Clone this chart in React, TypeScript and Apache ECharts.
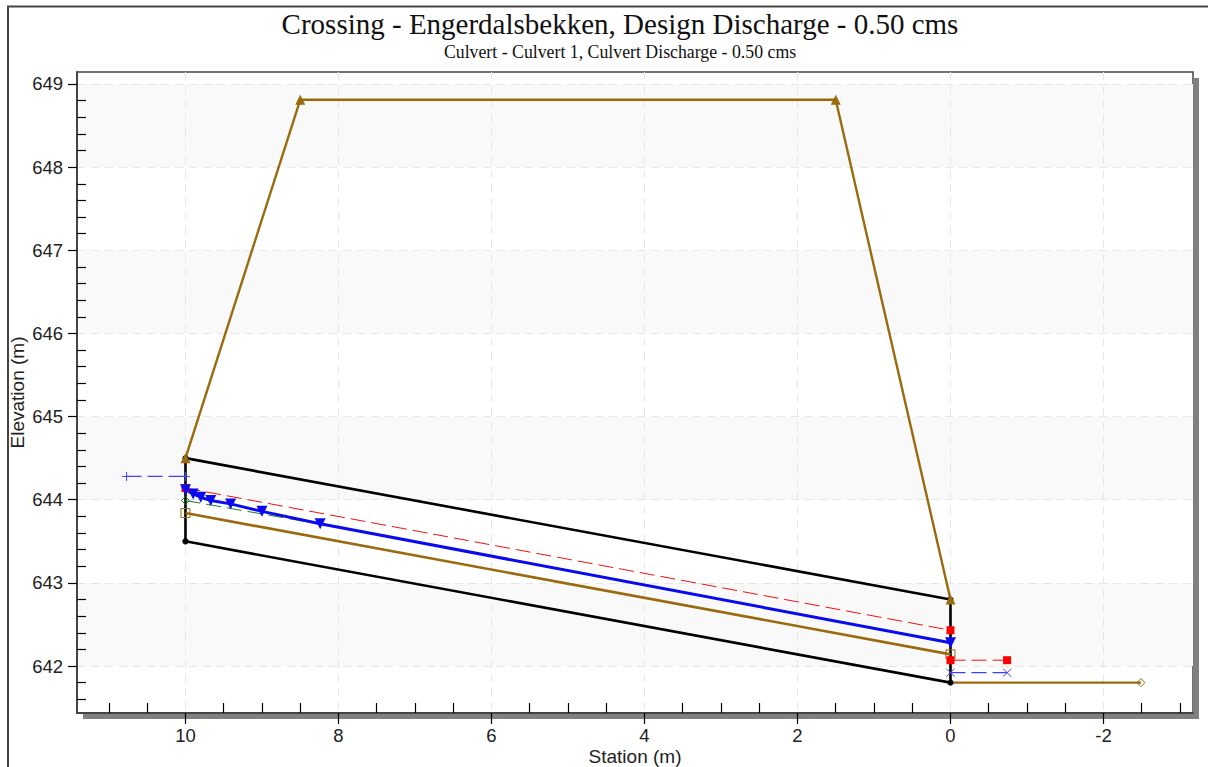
import React, { useEffect, useRef } from "react";
import * as echarts from "echarts";

const titleText = "Crossing - Engerdalsbekken, Design Discharge - 0.50 cms";
const subtitleText = "Culvert - Culvert 1, Culvert Discharge - 0.50 cms";
const xName = "Station (m)";
const yName = "Elevation (m)";

const xMajor = [10, 8, 6, 4, 2, 0, -2];
const xMinor = [11, 10.5, 9.5, 9, 8.5, 7.5, 7, 6.5, 5.5, 5, 4.5, 3.5, 3, 2.5, 1.5, 1, 0.5, -0.5, -1, -1.5, -2.5, -3];
const yMajor = [642, 643, 644, 645, 646, 647, 648, 649];
const yMinor = [
  641.6, 641.8, 642.2, 642.4, 642.6, 642.8, 643.2, 643.4, 643.6, 643.8, 644.2, 644.4, 644.6, 644.8,
  645.2, 645.4, 645.6, 645.8, 646.2, 646.4, 646.6, 646.8, 647.2, 647.4, 647.6, 647.8, 648.2, 648.4, 648.6, 648.8,
];

const embankment = [[10, 644.5], [8.5, 648.81], [1.5, 648.81], [0, 642.8]];
const culvert = [[10, 643.5], [10, 644.5], [0, 642.8], [0, 641.8], [10, 643.5]];
const channelBed = [[0, 641.8], [-2.49, 641.8]];
const flowBase = [[10, 643.84], [0, 642.14]];
const waterSurface = [
  [10, 644.12], [9.9, 644.07], [9.8, 644.03], [9.67, 643.99], [9.41, 643.95], [9.0, 643.86], [8.24, 643.71], [0, 642.28],
];
const normalDepth = [[10, 643.99], [8.2, 643.7], [0, 642.28]];
const energyLine = [[10, 644.14], [0, 642.43]];
const tailEnergy = [[0, 642.07], [-0.74, 642.07]];
const tailWater = [[0, 641.92], [-0.74, 641.92]];
const headWater = [[10.77, 644.28], [10, 644.28]];

const BROWN = "#9a6a0e";
const SANS = "Liberation Sans";
const SERIF = "Liberation Serif";
const PLUS = "path://M0 5L10 5M5 0L5 10";
const CROSS = "path://M0 0L10 10M10 0L0 10";

function line(data: number[][], color: string, width: number, opts: any = {}) {
  return {
    type: "line",
    data,
    silent: true,
    symbol: "none",
    showAllSymbol: true,
    lineStyle: { color, width, type: opts.dash ? [15, 6] : "solid" },
    itemStyle: { color, borderColor: color, borderWidth: 0 },
    ...opts.extra,
  };
}

export default function App() {
  const ref = useRef<HTMLDivElement>(null);
  useEffect(() => {
    const chart = echarts.init(ref.current!, undefined, { renderer: "svg" });
    const hollow = (color: string) => ({ color: "transparent", borderColor: color, borderWidth: 1 });
    const stroke = (color: string) => ({ color: "transparent", borderColor: color, borderWidth: 1 });
    chart.setOption({
      animation: false,
      backgroundColor: "#fff",
      title: [
        {
          text: titleText,
          left: 615,
          top: 4,
          textAlign: "center",
          textStyle: { fontFamily: SERIF, fontSize: 29, fontWeight: "normal", color: "#111" },
        },
        {
          text: subtitleText,
          left: 615,
          top: 38,
          textAlign: "center",
          textStyle: { fontFamily: SERIF, fontSize: 17.8, fontWeight: "normal", color: "#111" },
        },
      ],
      graphic: [
        { type: "polyline", silent: true, shape: { points: [[8, 767], [8, 6.5], [1208, 6.5]] }, style: { stroke: "#444", lineWidth: 2, fill: "none" } },
        { type: "rect", silent: true, shape: { x: 83, y: 713, width: 1115, height: 6 }, style: { fill: "#808080" } },
        { type: "rect", silent: true, shape: { x: 1193, y: 78, width: 6, height: 641 }, style: { fill: "#808080" } },
      ],
      grid: {
        left: 77, right: 15, top: 72, bottom: 54,
        outerBoundsMode: "none",
        show: true, borderColor: "#444", borderWidth: 1.5, backgroundColor: "transparent",
      },
      xAxis: [
        {
          type: "value",
          inverse: true,
          min: -3.17,
          max: 11.418,
          position: "bottom",
          name: xName,
          nameLocation: "middle",
          nameGap: 34,
          nameMoveOverlap: false,
          nameTextStyle: { fontFamily: SANS, fontSize: 19, color: "#222" },
          axisLine: { show: true, onZero: false, lineStyle: { color: "#444", width: 2 } },
          axisTick: { show: true, length: 11, lineStyle: { color: "#000", width: 1.2 }, customValues: xMajor },
          axisLabel: { fontFamily: SANS, fontSize: 18.5, color: "#222", margin: 13, customValues: xMajor, showMinLabel: true, showMaxLabel: true },
          splitLine: { show: true, lineStyle: { color: "#e6e6e6", type: [8, 6], width: 1 } },
          minorTick: { show: false },
        },
        {
          type: "value",
          inverse: true,
          min: -3.17,
          max: 11.418,
          position: "bottom",
          axisLine: { show: false, onZero: false },
          axisTick: { show: true, inside: true, length: 10, lineStyle: { color: "#000", width: 1.2 }, customValues: xMinor },
          axisLabel: { show: false },
          splitLine: { show: false },
        },
      ],
      yAxis: [
        {
          type: "value",
          min: 641.435,
          max: 649.144,
          position: "left",
          name: yName,
          nameLocation: "middle",
          nameGap: 50,
          nameRotate: 90,
          nameMoveOverlap: false,
          nameTextStyle: { fontFamily: SANS, fontSize: 19, color: "#222" },
          axisLine: { show: true, onZero: false, lineStyle: { color: "#444", width: 2 } },
          axisTick: { show: true, length: 9, lineStyle: { color: "#000", width: 1.2 }, customValues: yMajor },
          axisLabel: { fontFamily: SANS, fontSize: 18.5, color: "#222", margin: 14, customValues: yMajor, showMinLabel: true, showMaxLabel: true },
          splitLine: { show: true, lineStyle: { color: "#e6e6e6", type: [8, 6], width: 1 } },
          splitArea: { show: true, areaStyle: { color: ["#f9f9f9", "#ffffff"] } },
        },
        {
          type: "value",
          min: 641.435,
          max: 649.144,
          position: "left",
          axisLine: { show: false, onZero: false },
          axisTick: { show: true, inside: true, length: 9, lineStyle: { color: "#000", width: 1.2 }, customValues: yMinor },
          axisLabel: { show: false },
          splitLine: { show: false },
        },
      ],
      series: [
        line(channelBed, BROWN, 2.4, {
          extra: { symbol: (_: any, p: any) => (p.dataIndex === 1 ? "diamond" : "none"), symbolSize: 8, itemStyle: hollow(BROWN) },
        }),
        line(culvert, "#000", 2.6, { extra: { symbol: "circle", symbolSize: 6, itemStyle: { color: "#000" } } }),
        line(flowBase, BROWN, 2.6, { extra: { symbol: "rect", symbolSize: 9, itemStyle: hollow(BROWN) } }),
        line(normalDepth, "#1f7a2a", 1, {
          dash: true,
          extra: { symbol: (_: any, p: any) => (p.dataIndex === 0 ? "diamond" : "none"), symbolSize: 8, itemStyle: hollow("#1f7a2a") },
        }),
        line(energyLine, "#f01010", 1, { dash: true, extra: { symbol: "rect", symbolSize: 8, itemStyle: { color: "#f00" } } }),
        line(tailEnergy, "#f01010", 1, { dash: true, extra: { symbol: "rect", symbolSize: 8, itemStyle: { color: "#f00" } } }),
        line(headWater, "#4040ff", 1.2, { dash: true, extra: { symbol: PLUS, symbolSize: 9, itemStyle: stroke("#4040ff") } }),
        line(tailWater, "#4040ff", 1.2, { dash: true, extra: { symbol: CROSS, symbolSize: 8, itemStyle: stroke("#4040ff") } }),
        line(waterSurface, "#0a0aee", 3, {
          extra: { symbol: "triangle", symbolRotate: 180, symbolSize: 11, itemStyle: { color: "#0a0aee" } },
        }),
        line(embankment, BROWN, 2.4, { extra: { symbol: "triangle", symbolSize: 10, itemStyle: { color: BROWN } } }),
      ],
    });
    return () => chart.dispose();
  }, []);
  return <div ref={ref} style={{ position: "absolute", left: 0, top: 0, width: 1208, height: 767 }} />;
}
